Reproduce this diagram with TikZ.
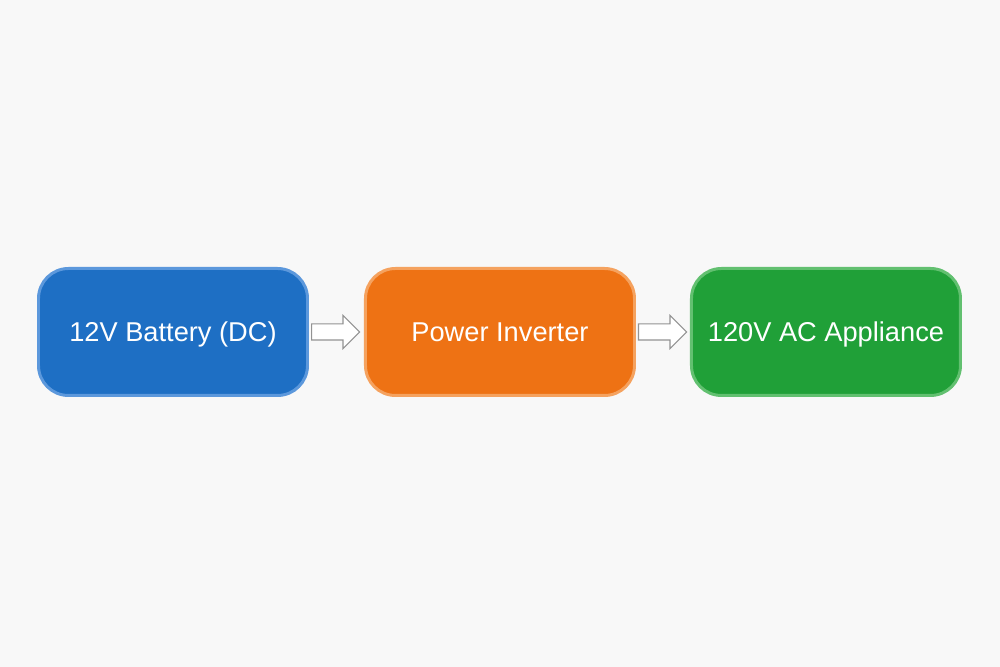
\documentclass[tikz,border=0pt]{standalone}
\usepackage{fontspec}
\setmainfont{Liberation Sans}
\usepackage{tikz}
\usepackage{xcolor}
\usetikzlibrary{positioning,shapes.arrows}
\definecolor{bat-fill}{RGB}{30,111,196}
\definecolor{bat-line}{RGB}{92,152,220}
\definecolor{inv-fill}{RGB}{238,114,20}
\definecolor{inv-line}{RGB}{245,162,95}
\definecolor{app-fill}{RGB}{32,160,56}
\definecolor{app-line}{RGB}{98,192,112}
\definecolor{page-bg}{RGB}{248,248,248}
\tikzset{
    power-box/.style = {rectangle, rounded corners=0.6cm, line width=1.7pt, minimum width=5.38cm, minimum height=2.54cm, text=white, text height=10.5pt, text depth=0pt, font=\fontsize{15.5pt}{18pt}\selectfont},
    flow-arrow/.style = {single arrow, draw=gray!85, fill=white, line width=0.6pt, inner xsep=0pt, inner ysep=0.15cm, minimum width=0.64cm, minimum height=0.96cm, single arrow head extend=0.17cm, single arrow head indent=0pt},
}

\begin{document}
\begin{tikzpicture}
\fill[page-bg] (0,0) rectangle (20,13.34);
\useasboundingbox (0,0) rectangle (20,13.34);
\node [power-box, draw=bat-line, fill=bat-fill] (battery) at (3.46,6.70) {12V Battery (DC)};
\node [power-box, draw=inv-line, fill=inv-fill, right=1.1cm of battery] (inverter) {Power Inverter};
\node [power-box, draw=app-line, fill=app-fill, right=1.08cm of inverter] (appliance) {120V AC Appliance};
\node [flow-arrow, right=0.04cm of battery] (arrow-a) {};
\node [flow-arrow, right=0.04cm of inverter] (arrow-b) {};
\end{tikzpicture}
\end{document}
